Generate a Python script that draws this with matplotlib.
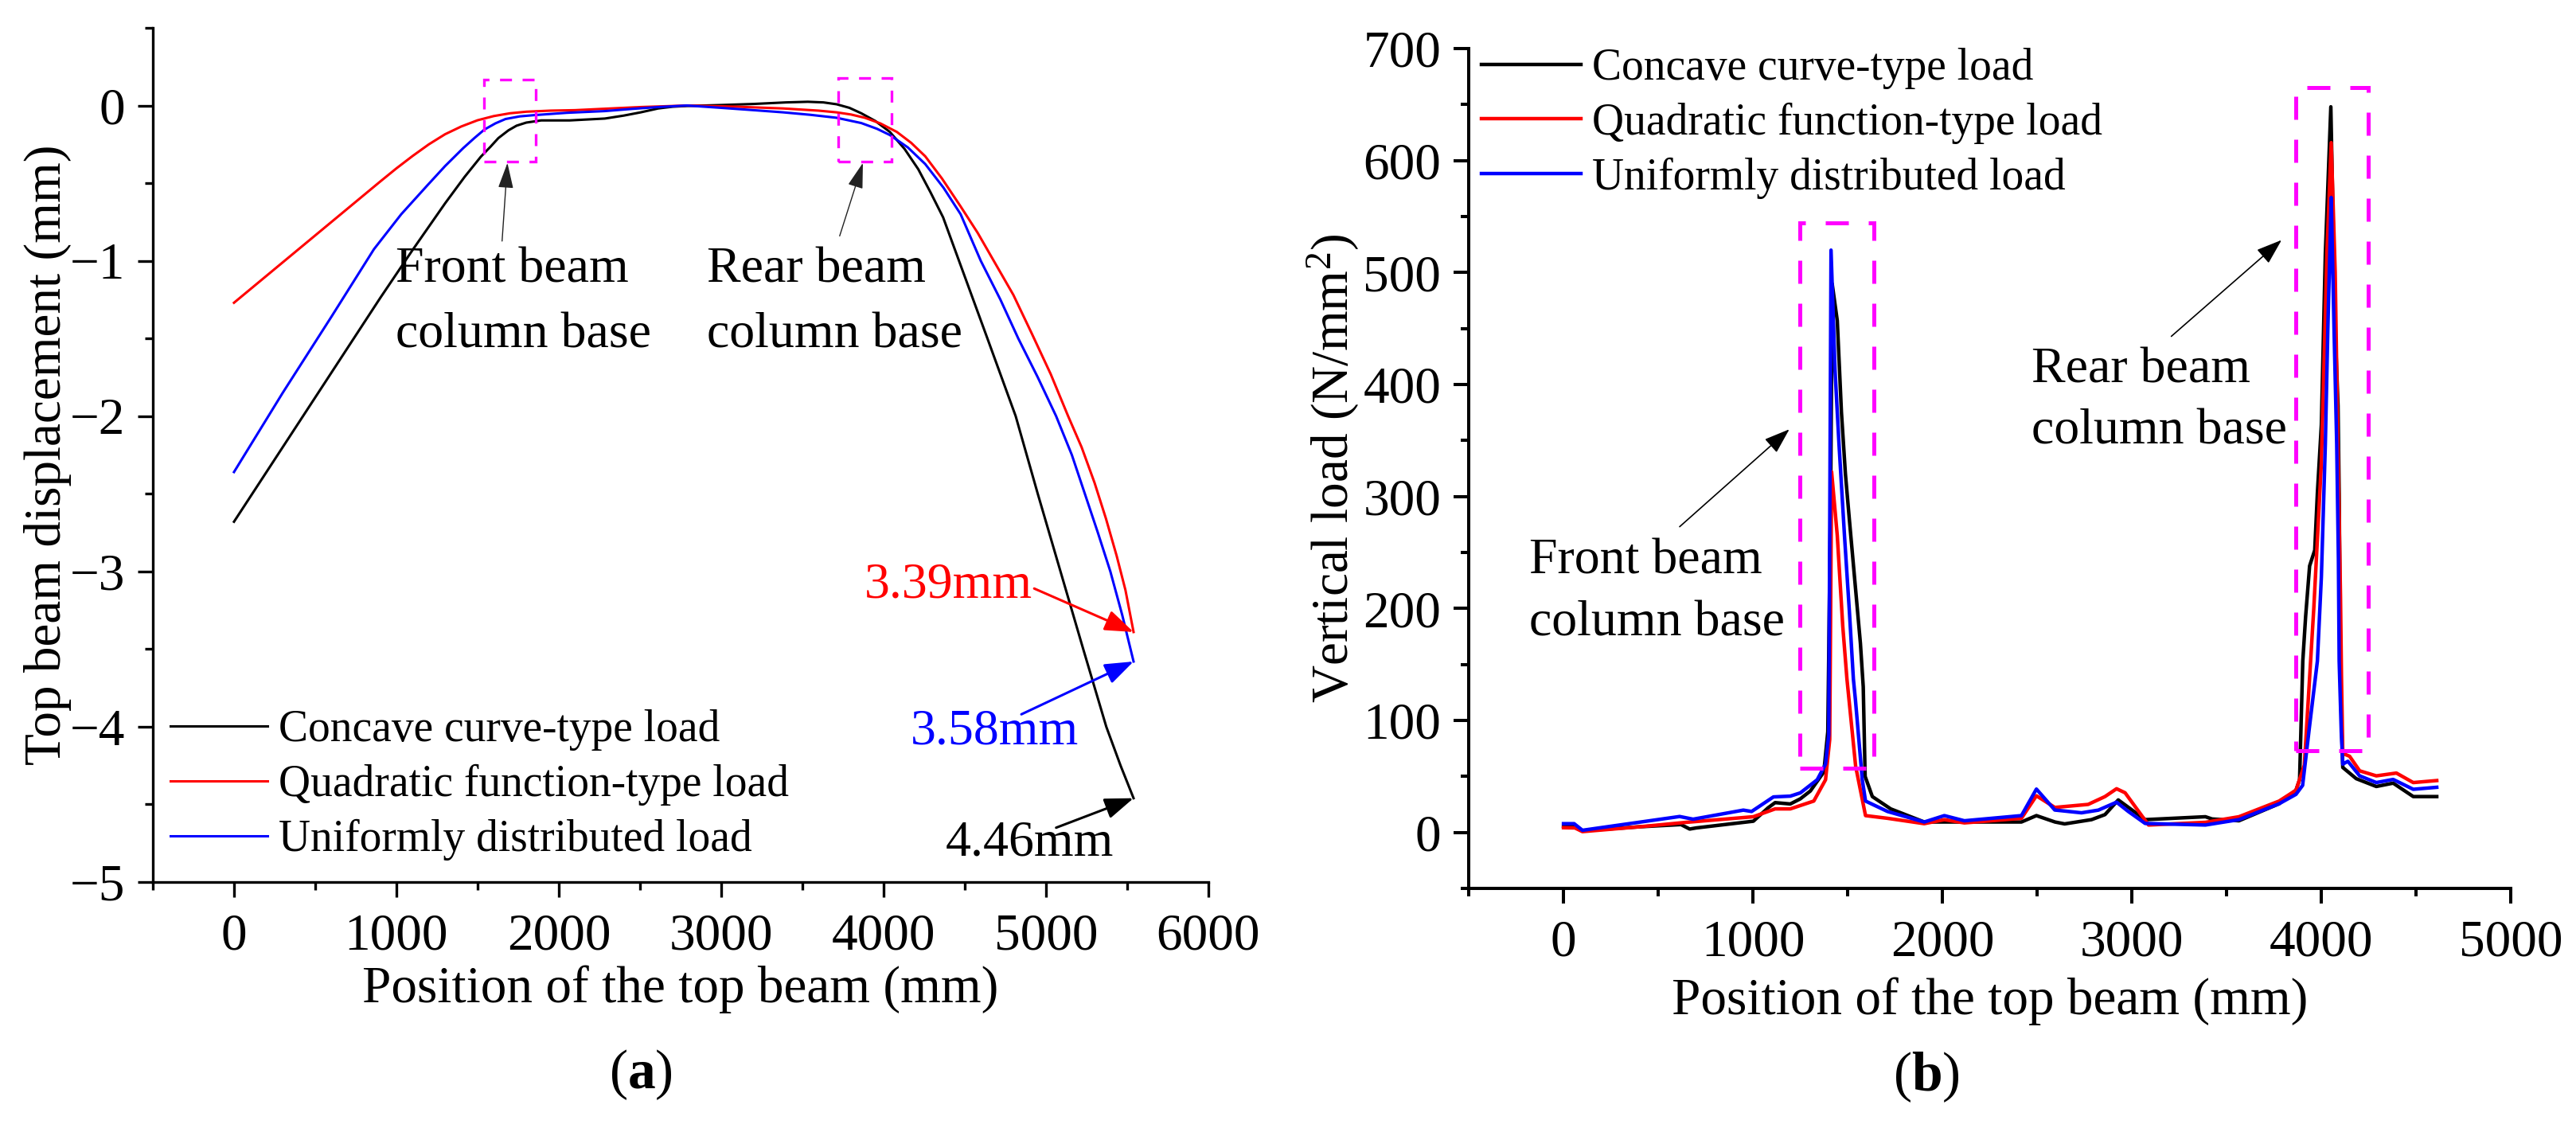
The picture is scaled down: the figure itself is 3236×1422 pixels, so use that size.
import matplotlib
matplotlib.use("Agg")
import matplotlib.pyplot as plt
from matplotlib.patches import Rectangle
from matplotlib.ticker import MultipleLocator

plt.rcParams['font.family'] = ['Liberation Serif', 'DejaVu Serif']
plt.rcParams['mathtext.fontset'] = 'custom'
plt.rcParams['mathtext.rm'] = 'Liberation Serif'
plt.rcParams['mathtext.it'] = 'Liberation Serif:italic'
plt.rcParams['mathtext.bf'] = 'Liberation Serif:bold'

# ---------------- data: panel (a) top beam displacement ----------------
series_names = ["Concave curve-type load", "Quadratic function-type load", "Uniformly distributed load"]
series_colors = ["#000000", "#FF0000", "#0000FF"]

a_x_concave = [0, 300, 600, 900, 1100, 1300, 1420, 1520, 1580, 1628, 1690, 1740, 1800, 1892, 2067,
               2284, 2400, 2505, 2612, 2700, 2790, 3000, 3200, 3400, 3534, 3630, 3711, 3790, 3863,
               3950, 4039, 4130, 4214, 4290, 4367, 4465, 4640, 4814, 4950, 5090, 5230, 5372, 5460,
               5540]
a_y_concave = [-2.68, -2.20, -1.72, -1.24, -0.93, -0.63, -0.46, -0.33, -0.265, -0.21, -0.16, -0.13,
               -0.11, -0.096, -0.096, -0.084, -0.065, -0.044, -0.019, -0.008, -0.003, 0.003, 0.01,
               0.02, 0.024, 0.02, 0.008, -0.015, -0.05, -0.10, -0.17, -0.28, -0.41, -0.56, -0.72,
               -1.0, -1.5, -2.0, -2.5, -3.0, -3.5, -4.0, -4.25, -4.46]

a_x_quadratic = [0, 300, 600, 900, 1000, 1100, 1200, 1300, 1400, 1500, 1600, 1700, 1800, 1950, 2100,
                 2300, 2505, 2789, 3100, 3382, 3600, 3711, 3800, 3885, 3980, 4082, 4170, 4257, 4360,
                 4475, 4580, 4679, 4800, 4914, 5030, 5137, 5220, 5300, 5370, 5436, 5490, 5540]
a_y_quadratic = [-1.27, -1.01, -0.75, -0.49, -0.405, -0.325, -0.25, -0.185, -0.135, -0.095, -0.068,
                 -0.05, -0.04, -0.033, -0.03, -0.02, -0.01, 0.0, -0.008, -0.019, -0.033, -0.044,
                 -0.058, -0.079, -0.115, -0.17, -0.24, -0.327, -0.47, -0.65, -0.82, -1.0, -1.22,
                 -1.47, -1.73, -2.0, -2.2, -2.43, -2.66, -2.90, -3.12, -3.39]

a_x_uniform = [0, 300, 600, 862, 1030, 1191, 1300, 1411, 1480, 1542, 1610, 1672, 1760, 1848, 2050,
               2284, 2450, 2612, 2789, 3000, 3200, 3382, 3550, 3711, 3863, 3960, 4039, 4150, 4257,
               4370, 4475, 4599, 4720, 4830, 4950, 5063, 5160, 5240, 5320, 5397, 5470, 5540]
a_y_uniform = [-2.36, -1.85, -1.36, -0.925, -0.70, -0.514, -0.39, -0.275, -0.21, -0.155, -0.115,
               -0.087, -0.07, -0.062, -0.047, -0.036, -0.022, -0.01, 0.0, -0.015, -0.03, -0.044,
               -0.06, -0.079, -0.113, -0.15, -0.19, -0.27, -0.377, -0.53, -0.70, -1.0, -1.25, -1.5,
               -1.75, -2.0, -2.25, -2.5, -2.75, -3.0, -3.28, -3.58]

a_end_labels = ["3.39mm", "3.58mm", "4.46mm"]

# ---------------- data: panel (b) vertical load ----------------
b_x_concave = [0, 60, 100, 400, 620, 666, 700, 1002, 1080, 1117, 1197, 1250, 1303, 1374, 1395, 1410,
               1418, 1445, 1467, 1488, 1509, 1538, 1567, 1582, 1592, 1630, 1727, 1904, 2417, 2496,
               2594, 2645, 2787, 2858, 2928, 3070, 3388, 3423, 3565, 3777, 3866, 3885, 3902, 3917,
               3938, 3965, 3979, 4000, 4014, 4021, 4050, 4073, 4088, 4094, 4101, 4106, 4113, 4184,
               4290, 4379, 4485, 4609]
b_y_concave = [5.5, 5.0, 1.5, 5.0, 7.0, 3.0, 4.0, 10.0, 22.0, 26.6, 25.4, 30.0, 37.0, 54.0, 90.0, 300.0,
               490.0, 457.0, 375.0, 320.0, 279.0, 224.0, 169.0, 130.0, 50.0, 32.0, 21.0, 9.3, 9.3, 15.0,
               9.3, 7.6, 11.4, 15.9, 29.0, 11.4, 14.0, 12.0, 10.4, 25.6, 37.7, 47.0, 153.0, 193.0,
               238.0, 252.0, 303.0, 364.0, 466.0, 517.0, 648.0, 449.0, 381.0, 302.0, 153.0, 99.0, 58.0,
               48.0, 41.0, 44.0, 32.0, 32.0]

b_x_quadratic = [0, 60, 100, 400, 648, 1002, 1117, 1197, 1250, 1321, 1383, 1405, 1415, 1445, 1474, 1496,
                 1542, 1594, 1710, 1904, 2010, 2116, 2417, 2496, 2593, 2769, 2858, 2919, 2964, 3088,
                 3388, 3565, 3777, 3866, 3910, 3960, 4000, 4030, 4052, 4073, 4087, 4101, 4106, 4113,
                 4149, 4202, 4290, 4396, 4485, 4609]
b_y_quadratic = [4.2, 4.0, 0.7, 5.0, 9.0, 14.0, 21.0, 21.0, 24.0, 28.0, 47.0, 83.0, 322.0, 265.0, 184.0,
                 137.0, 59.0, 15.0, 12.6, 7.8, 11.4, 8.5, 12.6, 32.7, 22.3, 25.0, 32.0, 39.0, 35.4, 6.6,
                 9.0, 14.0, 28.0, 37.7, 60.0, 200.0, 330.0, 520.0, 616.0, 500.0, 347.0, 210.0, 140.0,
                 70.5, 68.0, 55.0, 50.5, 53.0, 44.5, 46.3]

b_x_uniform = [0, 56, 100, 613, 684, 949, 993, 1108, 1197, 1250, 1339, 1383, 1400, 1412, 1433, 1454,
               1483, 1509, 1530, 1541, 1577, 1594, 1710, 1904, 2010, 2116, 2417, 2496, 2593, 2734,
               2823, 2919, 2981, 3070, 3388, 3565, 3777, 3866, 3901, 3937, 3979, 4000, 4021, 4034,
               4046, 4052, 4067, 4081, 4090, 4094, 4105, 4113, 4140, 4202, 4290, 4379, 4485, 4609]
b_y_uniform = [7.8, 7.8, 1.9, 14.2, 11.8, 19.9, 18.7, 31.7, 32.4, 35.3, 47.0, 61.0, 87.0, 520.0, 413.0,
               347.0, 265.0, 197.0, 137.0, 118.0, 47.0, 28.0, 18.7, 9.3, 15.0, 10.4, 15.0, 38.7, 20.0,
               17.5, 19.9, 27.0, 18.7, 8.0, 6.6, 11.4, 25.6, 34.0, 42.0, 94.0, 153.0, 228.0, 347.0,
               449.0, 527.0, 567.0, 449.0, 347.0, 244.0, 153.0, 90.0, 61.0, 63.5, 50.5, 44.5, 47.3,
               38.5, 40.3]

a_xticks = [0, 1000, 2000, 3000, 4000, 5000, 6000]
a_yticks = [-5, -4, -3, -2, -1, 0]
b_xticks = [0, 1000, 2000, 3000, 4000, 5000]
b_yticks = [0, 100, 200, 300, 400, 500, 600, 700]

FS_TICK = 47
FS_LAB = 47
FS_LEG = 40
FS_ANN = 46

fig = plt.figure(figsize=(32.37, 14.22), dpi=100)
axL = fig.add_axes([0.0593, 0.2208, 0.4096, 0.7546])
axR = fig.add_axes([0.5700, 0.2152, 0.4044, 0.7419])


def style_axes(ax, spine_w, xminor, yminor):
    for s in ("top", "right"):
        ax.spines[s].set_visible(False)
    for s in ("left", "bottom"):
        ax.spines[s].set_linewidth(spine_w)
    ax.xaxis.set_minor_locator(MultipleLocator(xminor))
    ax.yaxis.set_minor_locator(MultipleLocator(yminor))
    ax.tick_params(which="major", direction="out", length=14, width=spine_w, labelsize=FS_TICK)
    ax.tick_params(which="minor", direction="out", length=7, width=spine_w)
    ax.tick_params(axis="x", which="major", pad=14)
    ax.tick_params(axis="y", which="major", pad=11)


def two_line(ax, x, y1, y2, l1, l2):
    ax.text(x, y1, l1, fontsize=FS_ANN, va="baseline", ha="left")
    ax.text(x, y2, l2, fontsize=FS_ANN, va="baseline", ha="left")


# ---------------- panel (a) ----------------
for x, y, c, n in zip([a_x_concave, a_x_quadratic, a_x_uniform],
                      [a_y_concave, a_y_quadratic, a_y_uniform],
                      series_colors, series_names):
    axL.plot(x, y, color=c, lw=2.2, label=n, zorder=3)
axL.set_xlim(-500, 6000)
axL.set_ylim(-5, 0.5)
axL.set_xticks(a_xticks)
axL.set_yticks(a_yticks)
style_axes(axL, 2.4, 500, 0.5)
axL.set_xlabel("Position of the top beam (mm)", fontsize=FS_LAB)
axL.set_ylabel("Top beam displacement (mm)", fontsize=FS_LAB)
axL.xaxis.set_label_coords(0.5, -0.126)
axL.xaxis.label.set_verticalalignment("center")
axL.yaxis.set_label_coords(-0.0995, 0.5)
axL.yaxis.label.set_verticalalignment("center")

for (x0, x1, y0, y1) in [(1542, 1859, -0.36, 0.165), (3721, 4049, -0.36, 0.175)]:
    axL.add_patch(Rectangle((x0, y0), x1 - x0, y1 - y0, fill=False, edgecolor="#FF00FF",
                            lw=2.4, linestyle=(0, (4.5, 4.0)), zorder=5))

thin_arrow = dict(arrowstyle="-|>,head_length=1.0,head_width=0.3", color="#222222", lw=1.0,
                  mutation_scale=20, shrinkA=0, shrinkB=0)
axL.annotate("", xy=(1684, -0.37), xytext=(1651, -0.873), arrowprops=thin_arrow, zorder=6)
axL.annotate("", xy=(3873, -0.37), xytext=(3730, -0.84), arrowprops=thin_arrow, zorder=6)
two_line(axL, 995, -1.138, -1.559, "Front beam", "column base")
two_line(axL, 2912, -1.138, -1.559, "Rear beam", "column base")

end_x = a_x_quadratic[-1]
ann_specs = [
    (a_end_labels[0], series_colors[1], (3882, -3.17), (4928, -3.11), a_y_quadratic[-1]),
    (a_end_labels[1], series_colors[2], (4166, -4.11), (4849, -3.92), a_y_uniform[-1]),
    (a_end_labels[2], series_colors[0], (4380, -4.83), (5063, -4.65), a_y_concave[-1]),
]
for txt, col, tpos, tail, yend in ann_specs:
    axL.text(tpos[0], tpos[1], txt, color=col, fontsize=FS_ANN, va="baseline", ha="left")
    axL.annotate("", xy=(end_x, yend), xytext=tail,
                 arrowprops=dict(arrowstyle="-|>,head_length=1.1,head_width=0.4", color=col,
                                 lw=2.2, mutation_scale=20, shrinkA=0, shrinkB=0), zorder=6)

axL.legend(loc="upper left", bbox_to_anchor=(0.0166, 0.202), frameon=False, fontsize=FS_LEG,
           handlelength=2.2, handletextpad=0.25, labelspacing=0.3, borderpad=0, borderaxespad=0)

# ---------------- panel (b) ----------------
for x, y, c, n in zip([b_x_concave, b_x_quadratic, b_x_uniform],
                      [b_y_concave, b_y_quadratic, b_y_uniform],
                      series_colors, series_names):
    axR.plot(x, y, color=c, lw=3.2, label=n, zorder=3)
axR.set_xlim(-500, 5000)
axR.set_ylim(-50, 700)
axR.set_xticks(b_xticks)
axR.set_yticks(b_yticks)
style_axes(axR, 2.9, 500, 50)
axR.set_xlabel("Position of the top beam (mm)", fontsize=FS_LAB)
axR.set_ylabel("Vertical load (N/mm$^{2}$)", fontsize=FS_LAB)
axR.xaxis.set_label_coords(0.5, -0.1346)
axR.xaxis.label.set_verticalalignment("center")
axR.yaxis.set_label_coords(-0.1306, 0.5)
axR.yaxis.label.set_verticalalignment("center")

for (x0, x1, y0, y1) in [(1246, 1639, 57, 544), (3863, 4246, 73, 665)]:
    axR.add_patch(Rectangle((x0, y0), x1 - x0, y1 - y0, fill=False, edgecolor="#FF00FF",
                            lw=3.6, linestyle=(0, (5.8, 5.0)), zorder=5))

thin_arrow_b = dict(arrowstyle="-|>,head_length=1.0,head_width=0.35", color="#000000", lw=1.2,
                    mutation_scale=20, shrinkA=0, shrinkB=0)
axR.annotate("", xy=(1192, 360), xytext=(613, 273), arrowprops=thin_arrow_b, zorder=6)
axR.annotate("", xy=(3790, 529), xytext=(3208, 443), arrowprops=thin_arrow_b, zorder=6)
two_line(axR, -180, 231, 176, "Front beam", "column base")
two_line(axR, 2471, 402, 347, "Rear beam", "column base")

axR.legend(loc="upper left", bbox_to_anchor=(0.0122, 1.001), frameon=False, fontsize=FS_LEG,
           handlelength=2.25, handletextpad=0.25, labelspacing=0.3, borderpad=0, borderaxespad=0)

fig.text(805 / 3237, 1 - 1350 / 1422, r"($\mathbf{a}$)", fontsize=50, ha="center", va="center")
fig.text(2420 / 3237, 1 - 1353 / 1422, r"($\mathbf{b}$)", fontsize=50, ha="center", va="center")

fig.savefig("out.png", dpi=100)
